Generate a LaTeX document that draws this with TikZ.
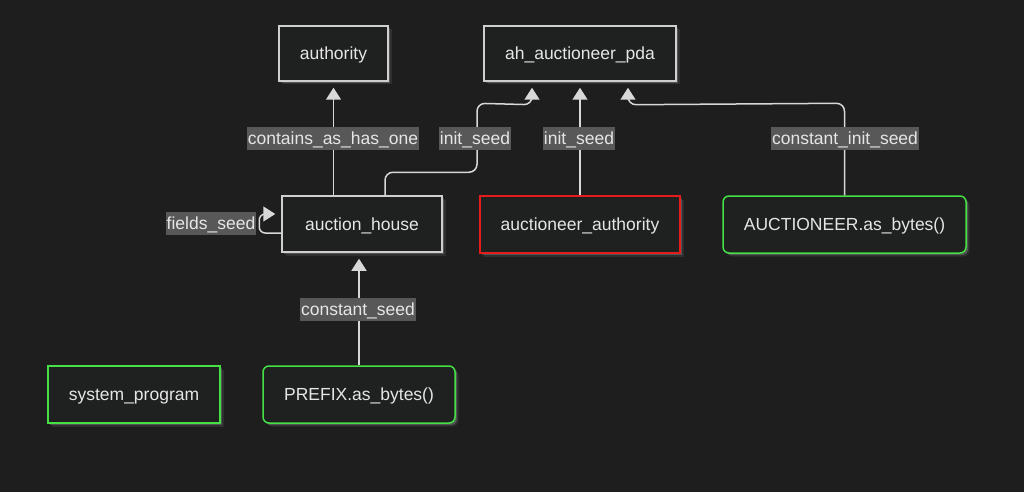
\documentclass[tikz,border=0pt]{standalone}
\usepackage{fontspec}
\setmainfont{Liberation Sans}
\usetikzlibrary{arrows.meta,shadows,calc}
\definecolor{bg}{HTML}{1E1E1E}
\definecolor{nodefill}{HTML}{1F2020}
\definecolor{txt}{HTML}{E6E6E6}
\definecolor{lblfill}{HTML}{585858}
\definecolor{linec}{HTML}{D8D8D8}
\definecolor{plainborder}{HTML}{CFCFCF}
\definecolor{greenb}{HTML}{45E045}
\definecolor{redb}{HTML}{E51C1C}
\tikzset{
  box/.style={draw=plainborder, line width=1.5pt, fill=nodefill, text=txt,
    font=\fontsize{17.5}{20}\selectfont, inner sep=0pt,
    text height=12.5pt, text depth=0pt,
    drop shadow={shadow xshift=2pt,shadow yshift=-2pt,fill=white,opacity=0.18},
    drop shadow={shadow xshift=3.5pt,shadow yshift=-3.5pt,fill=white,opacity=0.08}},
  greenbox/.style={box, draw=greenb},
  redbox/.style={box, draw=redb},
  roundbox/.style={rounded corners=6pt},
  lbl/.style={fill=lblfill, text=txt, font=\fontsize{17.5}{20}\selectfont,
    text height=12.5pt, text depth=0pt,
    inner xsep=1pt, inner ysep=0pt, minimum height=23pt},
  conn/.style={draw=linec, line width=1.5pt},
  arr/.style={conn, -{Triangle[width=15pt,length=12pt]}, shorten >=6pt},
}
\begin{document}
\begin{tikzpicture}[x=1pt,y=-1pt]
\useasboundingbox[fill=bg] (0,0) rectangle (1024,492);

% nodes
\node[box, minimum width=109pt, minimum height=55pt] (authority) at (333.5,53.5) {authority};
\node[box, minimum width=192pt, minimum height=55pt] (pda) at (580,53.5) {ah\_auctioneer\_pda};
\node[box, minimum width=160pt, minimum height=56pt] (house) at (362,224) {auction\_house};
\node[redbox, minimum width=200pt, minimum height=57pt] (aa) at (580,224.5) {auctioneer\_authority};
\node[greenbox, roundbox, minimum width=243pt, minimum height=57pt] (auc) at (844.5,224.5) {AUCTIONEER.as\_bytes()};
\node[greenbox, minimum width=172pt, minimum height=57pt] (sys) at (134,394.5) {system\_program};
\node[greenbox, roundbox, minimum width=192pt, minimum height=57pt] (prefix) at (359,394.5) {PREFIX.as\_bytes()};

% connectors
\draw[arr] (authority.south |- house.north) -- (authority.south);
\draw[arr, rounded corners=8pt] ([xshift=23pt]house.north) -- ++(0,-23) -- ++(92,0) -- ++(0,-69)
  -- ([xshift=-48pt,yshift=-23pt]pda.south) -- ([xshift=-48pt]pda.south);
\draw[arr] (aa.north) -- (pda.south);
\draw[arr, rounded corners=8pt] (auc.north) -- ++(0,-92) -- ([xshift=48pt,yshift=-23pt]pda.south) -- ([xshift=48pt]pda.south);
\draw[arr] (prefix.north) -- (prefix.north |- house.south);
\draw[arr, rounded corners=6pt] ([yshift=-9pt]house.west) -- ++(-22,0) -- ++(0,-19) -- ([yshift=10pt]house.west);

% labels
\node[lbl] (l1) at (333,138.5) {contains\_as\_has\_one};
\node[lbl] (l2) at (475,138.5) {init\_seed};
\node[lbl] (l3) at (579,138.5) {init\_seed};
\node[lbl] (l4) at (845,138.5) {constant\_init\_seed};
\node[lbl] (l5) at (358,309) {constant\_seed};
\node[lbl] (l6) at (211,223) {fields\_seed};
\end{tikzpicture}
\end{document}
